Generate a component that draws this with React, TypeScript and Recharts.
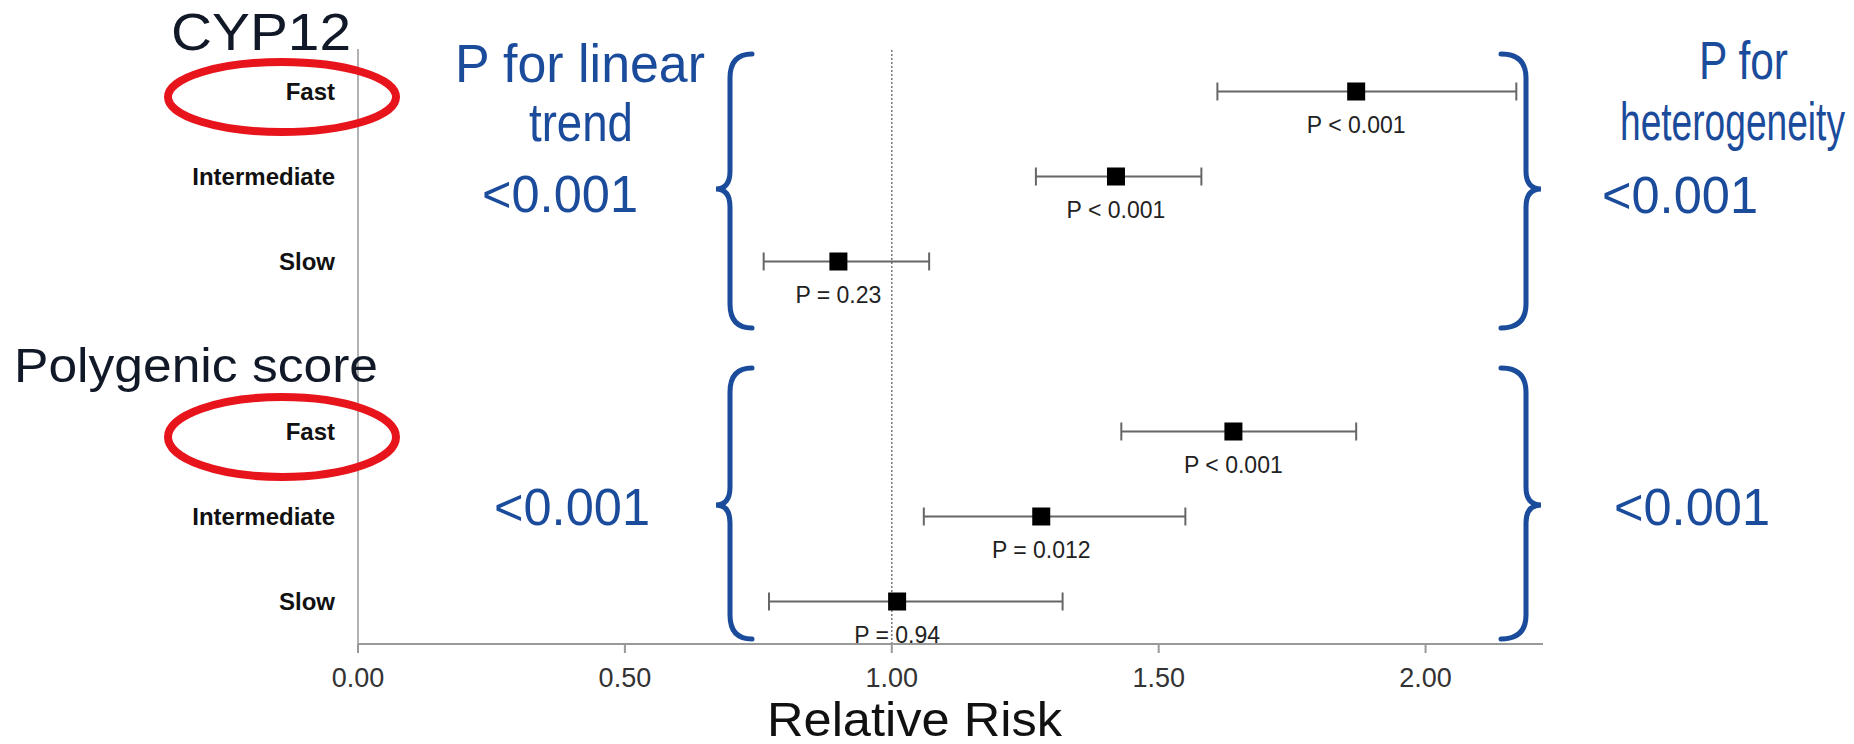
import React from 'react';
import { ScatterChart, Scatter, XAxis, YAxis, ErrorBar, ReferenceLine } from 'recharts';

// ---- data ----
const levels = ['Fast', 'Intermediate', 'Slow'];
const groupNames = ['CYP12', 'Polygenic score'];
const cypRR = [1.87, 1.42, 0.9];
const cypLo = [1.61, 1.27, 0.76];
const cypHi = [2.17, 1.58, 1.07];
const cypP = ['P < 0.001', 'P < 0.001', 'P = 0.23'];
const polyRR = [1.64, 1.28, 1.01];
const polyLo = [1.43, 1.06, 0.77];
const polyHi = [1.87, 1.55, 1.32];
const polyP = ['P < 0.001', 'P = 0.012', 'P = 0.94'];
const cypRows = [7, 6, 5];
const polyRows = [3, 2, 1];
const xTicks = [0, 0.5, 1, 1.5, 2];
const trendP = ['<0.001', '<0.001'];
const hetP = ['<0.001', '<0.001'];

const build = (rr: number[], lo: number[], hi: number[], p: string[], rows: number[]) =>
  rr.map((v, i) => ({ x: v, y: rows[i], err: [v - lo[i], hi[i] - v], p: p[i], label: levels[i] }));

const data = [...build(cypRR, cypLo, cypHi, cypP, cypRows), ...build(polyRR, polyLo, polyHi, polyP, polyRows)];
const yLabelMap: Record<number, string> = {};
data.forEach((d) => { yLabelMap[d.y] = d.label; });

const FONT = 'Liberation Sans, Arial, sans-serif';
const BLUE = '#1b4b9b';
const RED = '#e8141c';

const SquareShape = (props: any) => {
  const { cx, cy, payload } = props;
  return (
    <g>
      <rect x={cx - 9} y={cy - 9} width={18} height={18} fill="#000" />
      <text x={cx} y={cy + 41} textAnchor="middle" fontSize={23} fill="#222" fontFamily={FONT}>
        {payload.p}
      </text>
    </g>
  );
};

const leftBrace = (x: number, top: number, mid: number, bot: number) => {
  const spine = x + 14;
  const tip = x + 36;
  return `M ${tip} ${top} Q ${spine} ${top} ${spine} ${top + 24} L ${spine} ${mid - 18} Q ${spine} ${mid} ${x} ${mid} Q ${spine} ${mid} ${spine} ${mid + 18} L ${spine} ${bot - 24} Q ${spine} ${bot} ${tip} ${bot}`;
};
const rightBrace = (x: number, top: number, mid: number, bot: number) => {
  const spine = x - 15;
  const tip = x - 40;
  return `M ${tip} ${top} Q ${spine} ${top} ${spine} ${top + 24} L ${spine} ${mid - 18} Q ${spine} ${mid} ${x} ${mid} Q ${spine} ${mid} ${spine} ${mid + 18} L ${spine} ${bot - 24} Q ${spine} ${bot} ${tip} ${bot}`;
};

export default function App() {
  return (
    <div style={{ position: 'absolute', left: 0, top: 0, width: 1854, height: 744, background: '#fff' }}>
      <ScatterChart width={1854} height={744} margin={{ top: 49, right: 311, bottom: 40, left: 0 }}>
        <XAxis
          type="number"
          dataKey="x"
          domain={[0, 2.22]}
          ticks={xTicks}
          tickFormatter={(v: number) => v.toFixed(2)}
          tick={{ fontSize: 27, fill: '#333', fontFamily: FONT }}
          tickSize={9}
          tickMargin={15}
          stroke="#999"
          strokeWidth={2}
          height={60}
          allowDataOverflow
        />
        <YAxis
          type="number"
          dataKey="y"
          domain={[0.5, 7.5]}
          ticks={[1, 2, 3, 5, 6, 7]}
          tickFormatter={(v: number) => yLabelMap[v] || ''}
          tick={{ fontSize: 24, fill: '#111', fontWeight: 'bold', fontFamily: FONT }}
          tickLine={false}
          tickSize={0}
          tickMargin={23}
          stroke="#999"
          strokeWidth={1.5}
          width={358}
          allowDataOverflow
        />
        <ReferenceLine x={1} stroke="#777" strokeDasharray="2 2" strokeWidth={1.5} />
        <Scatter data={data} shape={SquareShape} isAnimationActive={false}>
          <ErrorBar dataKey="err" direction="x" width={9} stroke="#666" strokeWidth={2} />
        </Scatter>
      </ScatterChart>
      <svg width={1854} height={744} style={{ position: 'absolute', left: 0, top: 0, pointerEvents: 'none' }}>
        <g fontFamily={FONT}>
          <text x={351} y={50} textAnchor="end" fontSize={52} fill="#111827" textLength={180} lengthAdjust="spacingAndGlyphs">{groupNames[0]}</text>
          <text x={14} y={382} fontSize={48} fill="#111827" textLength={364} lengthAdjust="spacingAndGlyphs">{groupNames[1]}</text>
          <text x={767} y={736} fontSize={48} fill="#111" textLength={295} lengthAdjust="spacingAndGlyphs">Relative Risk</text>

          <text x={455} y={82} fontSize={53} fill={BLUE} textLength={250} lengthAdjust="spacingAndGlyphs">P for linear</text>
          <text x={581} y={141} textAnchor="middle" fontSize={53} fill={BLUE} textLength={104} lengthAdjust="spacingAndGlyphs">trend</text>
          <text x={560} y={212} textAnchor="middle" fontSize={52} fill={BLUE} textLength={156} lengthAdjust="spacingAndGlyphs">{trendP[0]}</text>
          <text x={572} y={525} textAnchor="middle" fontSize={52} fill={BLUE} textLength={156} lengthAdjust="spacingAndGlyphs">{trendP[1]}</text>

          <text x={1699} y={79} fontSize={54} fill={BLUE} textLength={89} lengthAdjust="spacingAndGlyphs">P for</text>
          <text x={1620} y={140} fontSize={54} fill={BLUE} textLength={225} lengthAdjust="spacingAndGlyphs">heterogeneity</text>
          <text x={1680} y={213} textAnchor="middle" fontSize={52} fill={BLUE} textLength={156} lengthAdjust="spacingAndGlyphs">{hetP[0]}</text>
          <text x={1692} y={525} textAnchor="middle" fontSize={52} fill={BLUE} textLength={156} lengthAdjust="spacingAndGlyphs">{hetP[1]}</text>

          <path d={leftBrace(716, 54, 189, 328)} fill="none" stroke={BLUE} strokeWidth={5} strokeLinecap="round" />
          <path d={leftBrace(716, 368, 505, 639)} fill="none" stroke={BLUE} strokeWidth={5} strokeLinecap="round" />
          <path d={rightBrace(1541, 54, 189, 328)} fill="none" stroke={BLUE} strokeWidth={5} strokeLinecap="round" />
          <path d={rightBrace(1541, 368, 505, 639)} fill="none" stroke={BLUE} strokeWidth={5} strokeLinecap="round" />

          <ellipse cx={282} cy={97} rx={114} ry={35} fill="none" stroke={RED} strokeWidth={8} />
          <ellipse cx={282} cy={437} rx={114} ry={40} fill="none" stroke={RED} strokeWidth={8} />
        </g>
      </svg>
    </div>
  );
}
